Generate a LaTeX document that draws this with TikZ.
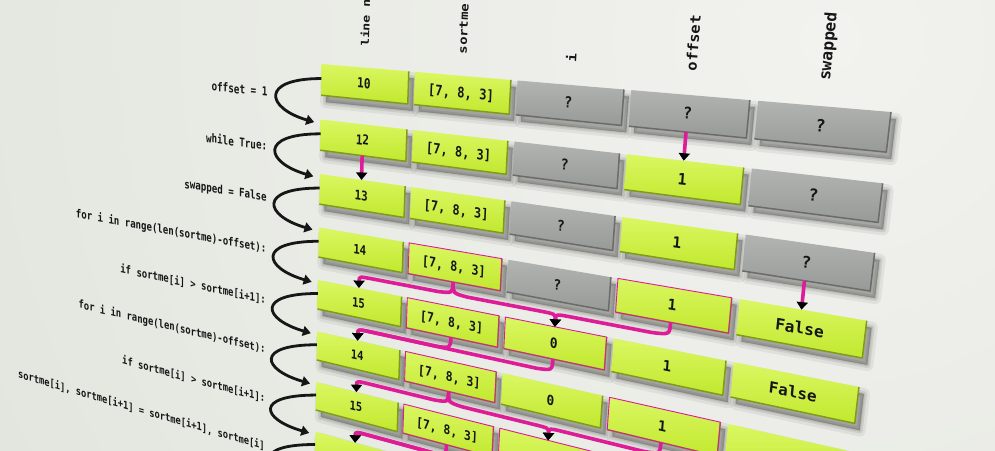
\documentclass[tikz,border=0pt]{standalone}
\usepackage{fontspec}
\setmonofont{DejaVu Sans Mono}
\usetikzlibrary{arrows.meta}
\pgfdeclarelayer{bgl}
\pgfdeclarelayer{shd}
\pgfsetlayers{bgl,shd,main}

\definecolor{bgL}{RGB}{242,242,238}
\definecolor{bgD}{RGB}{221,225,217}
\definecolor{grnT}{RGB}{218,247,98}
\definecolor{grnB}{RGB}{194,232,46}
\definecolor{grnE}{RGB}{128,156,22}
\definecolor{gryT}{RGB}{178,180,178}
\definecolor{gryB}{RGB}{152,154,152}
\definecolor{gryE}{RGB}{106,108,106}
\definecolor{pnk}{RGB}{222,28,152}
\definecolor{ink}{RGB}{22,22,22}

% homography: flat (u,v) -> image pixels
\def\hmA{364.7}\def\hmB{8.62}\def\hmC{321.7}
\def\hmD{22.28}\def\hmE{226.84}\def\hmF{64}
\def\hmG{(-0.2296)}\def\hmH{0.03873}

\newcommand\HP[2]{%
  \pgfmathsetmacro\hden{1+\hmG*(#1)+\hmH*(#2)}%
  \pgfmathsetmacro\hx{(\hmA*(#1)+\hmB*(#2)+\hmC)/\hden}%
  \pgfmathsetmacro\hy{(\hmD*(#1)+\hmE*(#2)+\hmF)/\hden}%
}
\newcommand\HJ{%
  \pgfmathsetmacro\ja{(\hmA-\hx*\hmG)/\hden/438.6}%
  \pgfmathsetmacro\jb{-(\hmD-\hy*\hmG)/\hden/438.6}%
  \pgfmathsetmacro\jc{-(\hmB-\hx*\hmH)/\hden/175}%
  \pgfmathsetmacro\jd{(\hmE-\hy*\hmH)/\hden/175}%
}

\tikzset{
  celltext/.style={transform shape, inner sep=0pt, text=ink, font=\fontsize{10.6}{12}\selectfont\ttfamily\bfseries, text height=7.7pt, text depth=0pt},
  hdrtext/.style={transform shape, inner sep=0pt, text=ink, font=\fontsize{10}{12}\selectfont\ttfamily\bfseries, anchor=west},
  codetext/.style={transform shape, inner sep=0pt, text=ink, font=\fontsize{9.9}{12}\selectfont\ttfamily\bfseries, anchor=east},
  boxG/.style={top color=grnT, bottom color=grnB},
  boxS/.style={top color=gryT, bottom color=gryB},
  edgeG/.style={draw=grnE, line width=1.5pt, line join=round},
  edgeS/.style={draw=gryE, line width=1.5pt, line join=round},
  pinkborder/.style={draw=pnk, line width=0.9pt, line join=round},
  shadowcore/.style={fill=black, fill opacity=0.26, draw=black, draw opacity=0.06, line width=12pt, line join=round},
  shadowmid/.style={draw=black, draw opacity=0.08, line width=6pt, line join=round},
  shadowin/.style={draw=black, draw opacity=0.08, line width=2.5pt, line join=round},
  pinkarrow/.style={draw=pnk, line width=3.6pt, -{Triangle[width=11pt,length=7.5pt,color=black]}},
  flowarrow/.style={draw=ink, line width=2.8pt, -{Triangle[width=10pt,length=8pt]}},
}

% #1 col, #2 row, #3 G/S, #4 pink 0/1, #5 text
\newcommand\cellbox[5]{%
  \pgfmathsetmacro\uA{(#1-1)*0.2025}%
  \pgfmathsetmacro\uB{\uA+0.19}%
  \pgfmathsetmacro\uM{\uA+0.095}%
  \pgfmathsetmacro\vA{(#2-1)*0.25}%
  \pgfmathsetmacro\vB{\vA+0.14}%
  \pgfmathsetmacro\vM{\vA+0.07}%
  \HP{\uA}{\vA}\coordinate (c#1r#2tl) at (\hx,\hy);%
  \HP{\uB}{\vA}\coordinate (c#1r#2tr) at (\hx,\hy);%
  \HP{\uB}{\vB}\coordinate (c#1r#2br) at (\hx,\hy);%
  \HP{\uA}{\vB}\coordinate (c#1r#2bl) at (\hx,\hy);%
  \HP{\uM}{\vA}\coordinate (c#1r#2t) at (\hx,\hy);%
  \HP{\uM}{\vB}\coordinate (c#1r#2b) at (\hx,\hy);%
  \begin{pgfonlayer}{shd}
    \path[shadowcore] ([shift={(5,7)}]c#1r#2tl) -- ([shift={(5,7)}]c#1r#2tr) -- ([shift={(5,7)}]c#1r#2br) -- ([shift={(5,7)}]c#1r#2bl) -- cycle;
    \path[shadowmid] ([shift={(5,7)}]c#1r#2tl) -- ([shift={(5,7)}]c#1r#2tr) -- ([shift={(5,7)}]c#1r#2br) -- ([shift={(5,7)}]c#1r#2bl) -- cycle;
    \path[shadowin] ([shift={(5,7)}]c#1r#2tl) -- ([shift={(5,7)}]c#1r#2tr) -- ([shift={(5,7)}]c#1r#2br) -- ([shift={(5,7)}]c#1r#2bl) -- cycle;
  \end{pgfonlayer}
  \shade[box#3] (c#1r#2tl) -- (c#1r#2tr) -- (c#1r#2br) -- (c#1r#2bl) -- cycle;
  \draw[edge#3] (c#1r#2tr) -- (c#1r#2br) -- (c#1r#2bl);
  \ifnum#4=1 \draw[pinkborder] (c#1r#2tl) -- (c#1r#2tr) -- (c#1r#2br) -- (c#1r#2bl) -- cycle;\fi
  \HP{\uM}{\vM}\HJ
  \node[celltext, cm={\ja,\jb,\jc,\jd,(\hx,\hy)}] (c#1r#2) at (0,0) {#5};
}

% #1 line index, #2 name, #3 text
\newcommand\codeline[3]{%
  \pgfmathsetmacro\vq{(#1-1)*0.25+0.15}%
  \HP{-0.126}{\vq}\HJ
  \node[codetext, cm={\ja,\jb,\jc,\jd,(\hx,\hy)}] (#2) at (0,0) {#3};
}

% #1 col, #2 name, #3 text
\newcommand\header[3]{%
  \pgfmathsetmacro\uh{(#1-1)*0.2025+0.095}%
  \HP{\uh}{-0.09}\HJ
  \node[hdrtext, cm={\ja,\jb,\jc,\jd,(\hx,\hy)}, rotate=90] (#2) at (0,0) {#3};
}

% #1 col from, #2 row from, #3 col to (next row)
\newcommand\pinkcurve[3]{%
  \pgfmathsetmacro\uS{(#1-1)*0.2025+0.095}%
  \pgfmathsetmacro\uT{(#3-1)*0.2025+0.095}%
  \pgfmathsetmacro\vS{(#2-1)*0.25+0.14}%
  \pgfmathsetmacro\vR{\vS+0.055}%
  \pgfmathsetmacro\dd{(#3>#1) ? 0.03 : -0.03}%
  \pgfmathtruncatemacro\rn{#2+1}%
  \HP{\uS}{\vS+0.05}\coordinate (pa) at (\hx,\hy);%
  \HP{\uS+\dd}{\vR}\coordinate (pb) at (\hx,\hy);%
  \HP{\uT-\dd}{\vR}\coordinate (pc) at (\hx,\hy);%
  \HP{\uT}{\vR}\coordinate (pd) at (\hx,\hy);%
  \draw[pinkarrow] (c#1r#2b) .. controls (pa) .. (pb) -- (pc) .. controls (pd) .. (c#3r\rn t);
}

\begin{document}
\begin{tikzpicture}[x={(1pt,0pt)}, y={(0pt,-1pt)}]
\useasboundingbox (0,0) rectangle (995,450);
\begin{pgfonlayer}{bgl}
  \fill[bgD] (0,0) rectangle (995,450);
  \begin{scope}
    \clip (0,0) rectangle (995,450);
    \shade[inner color=bgL, outer color=bgD] (830,40) circle[radius=1300pt];
  \end{scope}
\end{pgfonlayer}

% headers
\header{1}{hline}{line no}
\header{2}{hsort}{sortme}
\header{3}{hi}{i}
\header{4}{hoff}{offset}
\header{5}{hswap}{swapped}

% rows
\cellbox{1}{1}{G}{0}{10}
\cellbox{2}{1}{G}{0}{[7, 8, 3]}
\cellbox{3}{1}{S}{0}{?}
\cellbox{4}{1}{S}{0}{?}
\cellbox{5}{1}{S}{0}{?}

\cellbox{1}{2}{G}{0}{12}
\cellbox{2}{2}{G}{0}{[7, 8, 3]}
\cellbox{3}{2}{S}{0}{?}
\cellbox{4}{2}{G}{0}{1}
\cellbox{5}{2}{S}{0}{?}

\cellbox{1}{3}{G}{0}{13}
\cellbox{2}{3}{G}{0}{[7, 8, 3]}
\cellbox{3}{3}{S}{0}{?}
\cellbox{4}{3}{G}{0}{1}
\cellbox{5}{3}{S}{0}{?}

\cellbox{1}{4}{G}{0}{14}
\cellbox{2}{4}{G}{1}{[7, 8, 3]}
\cellbox{3}{4}{S}{0}{?}
\cellbox{4}{4}{G}{1}{1}
\cellbox{5}{4}{G}{0}{False}

\cellbox{1}{5}{G}{0}{15}
\cellbox{2}{5}{G}{1}{[7, 8, 3]}
\cellbox{3}{5}{G}{1}{0}
\cellbox{4}{5}{G}{0}{1}
\cellbox{5}{5}{G}{0}{False}

\cellbox{1}{6}{G}{0}{14}
\cellbox{2}{6}{G}{1}{[7, 8, 3]}
\cellbox{3}{6}{G}{0}{0}
\cellbox{4}{6}{G}{1}{1}
\cellbox{5}{6}{G}{0}{}

\cellbox{1}{7}{G}{0}{15}
\cellbox{2}{7}{G}{1}{[7, 8, 3]}
\cellbox{3}{7}{G}{1}{}
\cellbox{4}{7}{G}{0}{}
\cellbox{5}{7}{G}{0}{}

\cellbox{1}{8}{G}{0}{}
\cellbox{2}{8}{G}{0}{}
\cellbox{3}{8}{G}{0}{}

% code lines
\codeline{1}{k1}{offset = 1}
\codeline{2}{k2}{while True:}
\codeline{3}{k3}{swapped = False}
\codeline{4}{k4}{for i in range(len(sortme)-offset):}
\codeline{5}{k5}{if sortme[i] > sortme[i+1]:}
\codeline{6}{k6}{for i in range(len(sortme)-offset):}
\codeline{7}{k7}{if sortme[i] > sortme[i+1]:}
\codeline{8}{k8}{sortme[i], sortme[i+1] = sortme[i+1], sortme[i]}

% flow arrows
\foreach \k in {1,...,8}{
  \pgfmathsetmacro\vs{(\k-1)*0.25+0.065}
  \pgfmathsetmacro\ve{\k*0.25+0.015}
  \HP{0}{\vs}\coordinate (fs\k) at (\hx,\hy);
  \HP{-0.015}{\ve}\coordinate (fe\k) at (\hx,\hy);
  \draw[flowarrow] (fs\k) .. controls +(-62,0) and +(-48,-14) .. (fe\k);
}

% pink data-flow arrows
\draw[pinkarrow] (c4r1b) -- (c4r2t);
\draw[pinkarrow] (c1r2b) -- (c1r3t);
\draw[pinkarrow] (c5r3b) -- (c5r4t);
\pinkcurve{2}{4}{1}
\pinkcurve{2}{4}{3}
\pinkcurve{4}{4}{3}
\pinkcurve{2}{5}{1}
\pinkcurve{3}{5}{1}
\pinkcurve{2}{6}{1}
\pinkcurve{2}{6}{3}
\pinkcurve{4}{6}{3}
\pinkcurve{2}{7}{1}
\pinkcurve{3}{7}{1}
\end{tikzpicture}
\end{document}
